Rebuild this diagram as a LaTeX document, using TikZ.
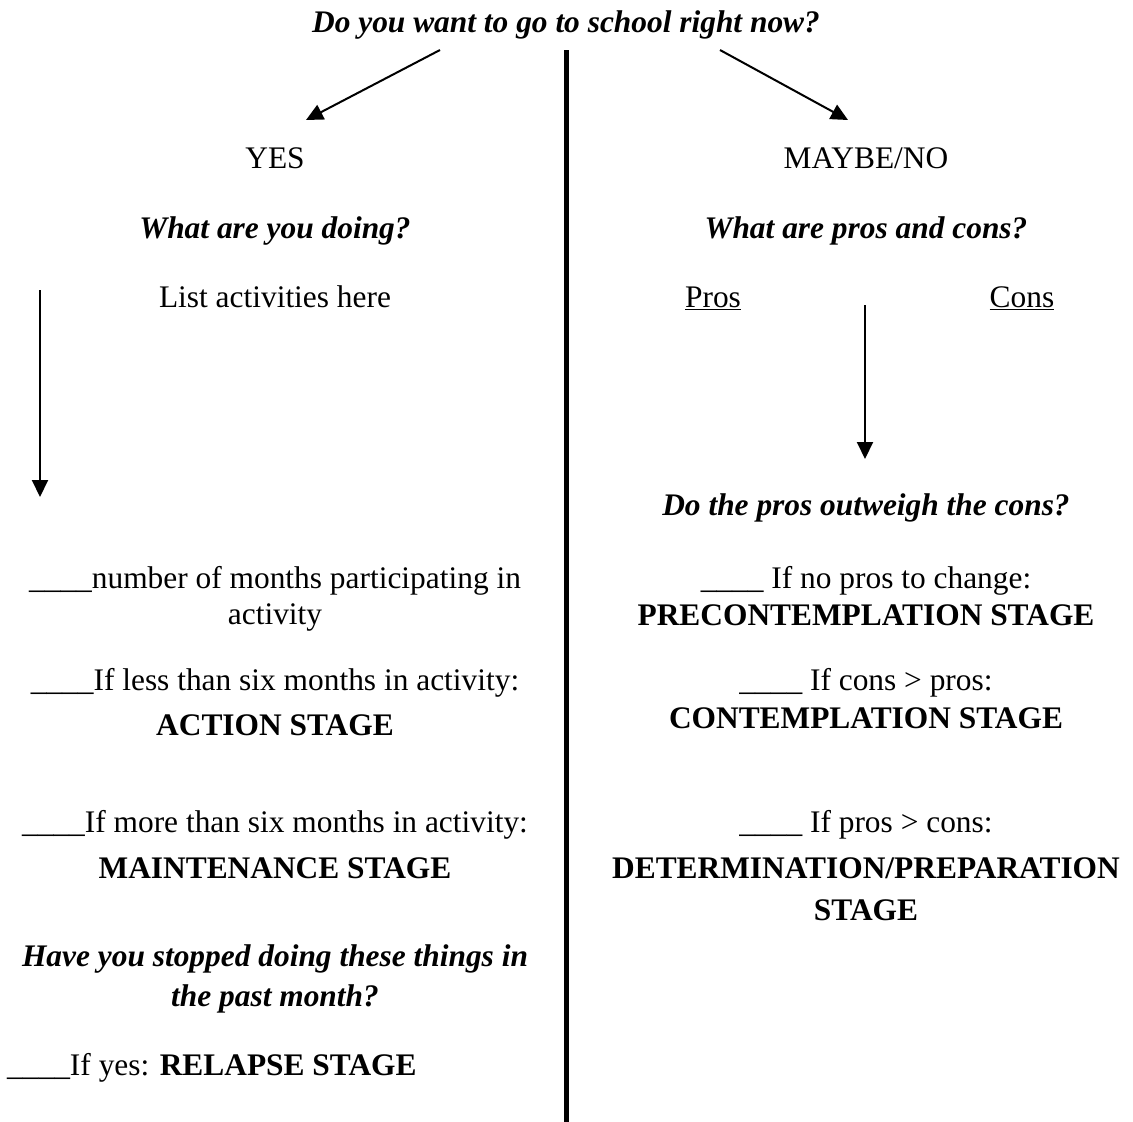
\documentclass[tikz,border=0pt]{standalone}
\usepackage{fontspec}
\setmainfont{Liberation Serif}
\usetikzlibrary{arrows.meta}

\tikzset{
  txt/.style={inner sep=0pt, text height=28pt, text depth=7pt,
    font=\fontsize{31.4}{37}\selectfont},
  ques/.style={txt, font=\fontsize{31.4}{37}\selectfont\bfseries\itshape},
  stage/.style={txt, font=\fontsize{31.4}{37}\selectfont\bfseries},
  arr/.style={line width=2pt, -{Triangle[length=17pt,width=16pt]}}
}

\begin{document}
\begin{tikzpicture}[x=1pt,y=-1pt]
  \useasboundingbox (0,0) rectangle (1133,1122);

  % top question and the two branches
  \node[ques] (top) at (566,22) {Do you want to go to school right now?};
  \node[txt] (yes) at (275,158) {YES};
  \node[txt] (maybe) at (866,158) {MAYBE/NO};
  \coordinate (topl) at (440,50);
  \coordinate (topr) at (720,50);
  \coordinate (yesin) at (306,120);
  \coordinate (maybein) at (848,120);
  \draw[arr] (topl) -- (yesin);
  \draw[arr] (topr) -- (maybein);

  % divider
  \coordinate (divtop) at (566,50);
  \coordinate (divbot) at (566,1122);
  \draw[line width=5pt] (divtop) -- (divbot);

  % left column
  \node[ques] (doing) at (275,228) {What are you doing?};
  \node[txt] (list) at (275,297) {List activities here};
  \coordinate (la) at (40,290);
  \coordinate (lb) at (40,497);
  \draw[arr] (la) -- (lb);
  \node[txt] (months1) at (275,578) {\_\_\_\_number of months participating in};
  \node[txt] (months2) at (275,614) {activity};
  \node[txt] (less) at (275,680) {\_\_\_\_If less than six months in activity:};
  \node[stage] (action) at (275,725) {ACTION STAGE};
  \node[txt] (more) at (275,822) {\_\_\_\_If more than six months in activity:};
  \node[stage] (maint) at (275,868) {MAINTENANCE STAGE};
  \node[ques] (stop1) at (275,956) {Have you stopped doing these things in};
  \node[ques] (stop2) at (275,996) {the past month?};
  \node[txt, anchor=west] (relapse) at (7,1065) {\_\_\_\_If yes: \textbf{RELAPSE STAGE}};

  % right column
  \node[ques] (proscons) at (866,228) {What are pros and cons?};
  \node[txt] (pros) at (713,297) {\underline{Pros}};
  \node[txt] (cons) at (1022,297) {\underline{Cons}};
  \coordinate (ra) at (865,305);
  \coordinate (rb) at (865,459);
  \draw[arr] (ra) -- (rb);
  \node[ques] (outweigh) at (866,505) {Do the pros outweigh the cons?};
  \node[txt] (nopros) at (866,578) {\_\_\_\_ If no pros to change:};
  \node[stage] (precon) at (866,615) {PRECONTEMPLATION STAGE};
  \node[txt] (conspro) at (866,680) {\_\_\_\_ If cons > pros:};
  \node[stage] (contem) at (866,718) {CONTEMPLATION STAGE};
  \node[txt] (proscon) at (866,822) {\_\_\_\_ If pros > cons:};
  \node[stage] (determ) at (866,868) {DETERMINATION/PREPARATION};
  \node[stage] (stage) at (866,910) {STAGE};
\end{tikzpicture}
\end{document}
